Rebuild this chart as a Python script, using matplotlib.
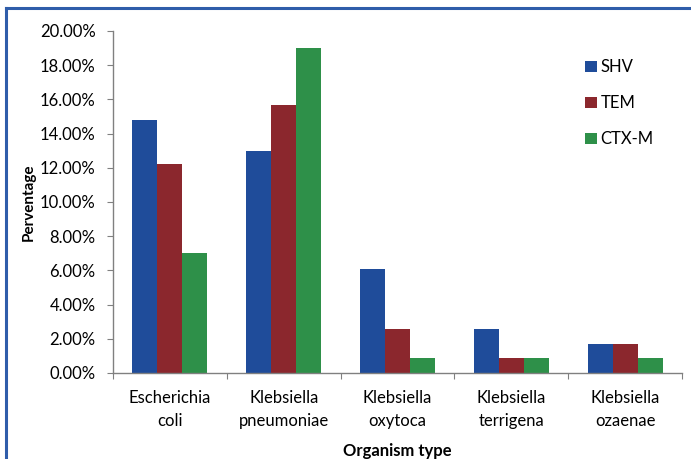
import numpy as np
import matplotlib.pyplot as plt
from matplotlib.lines import Line2D
from matplotlib.ticker import FuncFormatter

plt.rcParams['font.family'] = ['Lato', 'DejaVu Sans']

# data (fractions)
organisms = ['Escherichia\ncoli', 'Klebsiella\npneumoniae', 'Klebsiella\noxytoca',
             'Klebsiella\nterrigena', 'Klebsiella\nozaenae']
shv = [0.148, 0.130, 0.061, 0.026, 0.017]
tem = [0.122, 0.157, 0.026, 0.009, 0.017]
ctxm = [0.070, 0.190, 0.009, 0.009, 0.009]

series = [('SHV', shv, '#1F4C9A'), ('TEM', tem, '#8B272D'), ('CTX-M', ctxm, '#2E9049')]

fig = plt.figure(figsize=(6.91, 4.59), dpi=100)
ax = fig.add_axes([0.1635, 0.1874, 0.8235, 0.7451])

x = np.arange(len(organisms))
width = 0.22
for i, (name, vals, color) in enumerate(series):
    ax.bar(x + (i - 1) * width, vals, width, color=color, label=name)

ax.set_xlim(-0.5, len(organisms) - 0.5)
ax.set_ylim(0, 0.20)
ax.set_yticks(np.arange(0, 0.2001, 0.02))
ax.yaxis.set_major_formatter(FuncFormatter(lambda v, p: f'{v * 100:.2f}%'))

# category labels between the boundary ticks, like a spreadsheet chart
ax.set_xticks(np.arange(-0.5, len(organisms)), minor=False)
ax.set_xticklabels([])
ax.set_xticks(x, minor=True)
ax.set_xticklabels(organisms, minor=True, fontsize=12, linespacing=1.6)
ax.tick_params(axis='x', which='minor', length=0, pad=12)
ax.tick_params(axis='x', which='major', length=4.5, color='#808080')
ax.tick_params(axis='y', length=4.5, color='#808080', labelsize=12, pad=8)

for s in ['top', 'right']:
    ax.spines[s].set_visible(False)
for s in ['left', 'bottom']:
    ax.spines[s].set_color('#808080')
    ax.spines[s].set_linewidth(1.0)

ax.set_ylabel('Perventage', fontsize=11, fontweight='bold', labelpad=3)
ax.set_xlabel('Organism type', fontsize=12, fontweight='bold', labelpad=9.5)

ax.legend(loc='upper left', bbox_to_anchor=(0.847, 0.871), bbox_transform=fig.transFigure,
          frameon=False, fontsize=12, handlelength=0.7, handleheight=0.7,
          handletextpad=0.2, labelspacing=1.2, borderpad=0, borderaxespad=0)

# blue frame around the figure (top and left edges visible)
fig.add_artist(Line2D([0.008, 0.008], [0.0, 0.983], transform=fig.transFigure,
                      color='#2F5DAA', lw=2.2))
fig.add_artist(Line2D([0.008, 1.0], [0.983, 0.983], transform=fig.transFigure,
                      color='#2F5DAA', lw=2.2))

fig.savefig('out.png', dpi=100)
